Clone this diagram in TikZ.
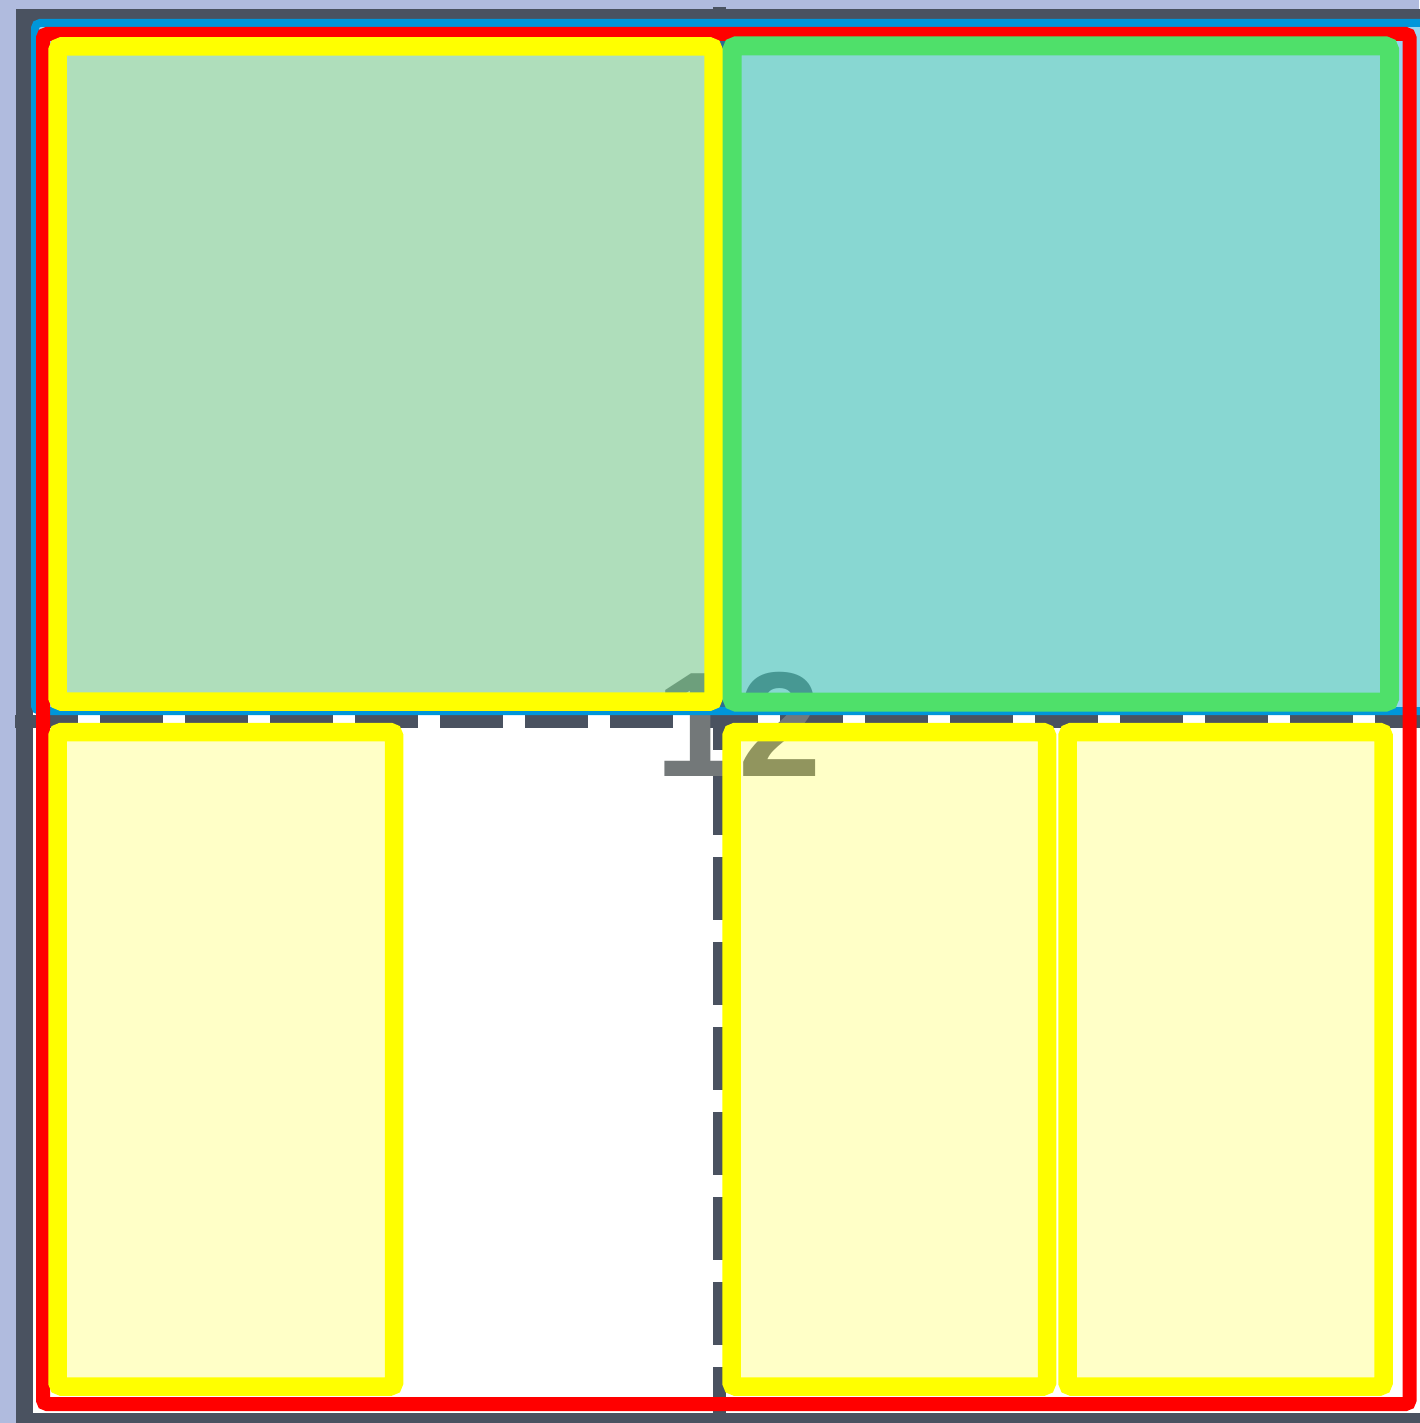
\documentclass[tikz,border=0pt]{standalone}
\usepackage{fontspec}
\setmainfont{Liberation Sans}
\definecolor{lav}{RGB}{176,187,222}
\definecolor{frame}{RGB}{74,82,96}
\definecolor{bblue}{RGB}{0,150,218}
\definecolor{gstroke}{RGB}{79,224,106}
\definecolor{yel}{RGB}{255,255,0}
\definecolor{rd}{RGB}{255,0,0}
\definecolor{txtgray}{RGB}{115,120,121}
\begin{document}
\begin{tikzpicture}[x=0.1mm,y=-0.1mm,
  gridline/.style={draw=frame,line width=1.3mm,dash pattern=on 6.3mm off 2.2mm},
  yelbox/.style={draw=yel,line width=1.85mm,fill=yel,fill opacity=0.22,draw opacity=1,rounded corners=0.4mm},
  grnbox/.style={draw=gstroke,line width=1.9mm,fill=gstroke,fill opacity=0.22,draw opacity=1,rounded corners=0.4mm},
  bluebox/.style={draw=bblue,line width=0.8mm,fill=bblue,fill opacity=0.4,draw opacity=1,rounded corners=0.5mm},
  redbox/.style={draw=rd,line width=1.4mm,rounded corners=0.4mm},
  bigtext/.style={text=txtgray,inner sep=0pt,font=\fontsize{42.5}{50}\selectfont\bfseries}]
\fill[lav] (0,0) rectangle (1419,1423);
\useasboundingbox (0,0) rectangle (1419,1423);
% outer frame
\draw[frame,line width=1.7mm,fill=white] (24.5,17.5) rectangle (1440,1421);
% dashed grid lines
\coordinate (hL) at (15,721);
\coordinate (hR) at (1440,721);
\coordinate (vT) at (719,7);
\coordinate (vB) at (719,1440);
\draw[gridline] (hL) -- (hR);
\draw[gridline] (vT) -- (vB);
% label
\node[bigtext] (lbl) at (739,724) {12};
% blue box (top half)
\draw[bluebox] (35,23) rectangle (1430,711);
% red box
\draw[redbox] (43,34) rectangle (1409.5,1404);
% top boxes
\draw[yelbox] (57.5,46.5) rectangle (713.5,701.5);
\draw[grnbox] (732,46) rectangle (1389.5,702);
% bottom boxes
\draw[yelbox] (57.5,732) rectangle (394,1386.5);
\draw[yelbox] (731.5,732) rectangle (1047,1386.5);
\draw[yelbox] (1067.5,732) rectangle (1383.5,1386.5);
\end{tikzpicture}
\end{document}
